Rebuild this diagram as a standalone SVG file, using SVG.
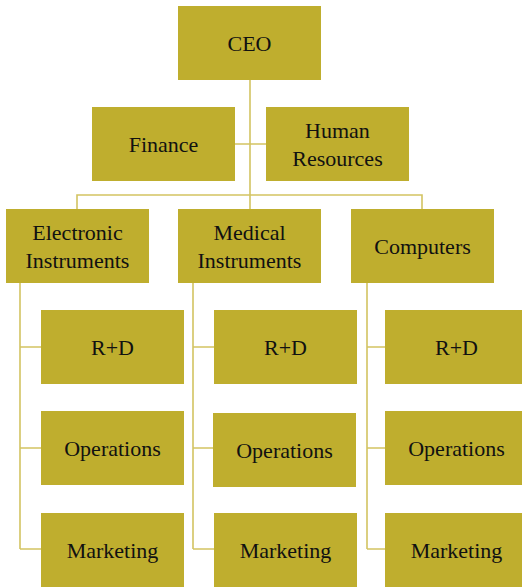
<svg xmlns="http://www.w3.org/2000/svg" width="522" height="587" viewBox="0 0 522 587">
<style>
.box{fill:#BFAE2E}
.t{font-family:"Liberation Serif",serif;font-size:22px;fill:#111;text-anchor:middle}
.c{stroke:#D3C462;stroke-width:1.6;fill:none}
</style>
<rect width="522" height="587" fill="#fff"/>
<g id="connectors" class="c">
<path d="M250 80V209M235 144H266M77 209V195H422V209"/>
<path d="M20 283V549M20 347H41M20 448H41M20 549H41"/>
<path d="M193 283V549M193 347H214M193 448H213M193 549H214"/>
<path d="M367 283V549M367 347H385M367 448H385M367 549H385"/>
</g>
<g id="ceo"><rect class="box" x="178" y="6" width="143" height="74"/><text class="t" x="249.5" y="51">CEO</text></g>
<g id="finance"><rect class="box" x="92" y="107" width="143" height="74"/><text class="t" x="163.5" y="152">Finance</text></g>
<g id="hr"><rect class="box" x="266" y="107" width="143" height="74"/><text class="t" x="337.5" y="138.3">Human</text><text class="t" x="337.5" y="165.7">Resources</text></g>
<g id="electronic"><rect class="box" x="6" y="209" width="143" height="74"/><text class="t" x="77.5" y="240.3">Electronic</text><text class="t" x="77.5" y="267.7">Instruments</text></g>
<g id="medical"><rect class="box" x="178" y="209" width="143" height="74"/><text class="t" x="249.5" y="240.3">Medical</text><text class="t" x="249.5" y="267.7">Instruments</text></g>
<g id="computers"><rect class="box" x="351" y="209" width="143" height="74"/><text class="t" x="422.5" y="254">Computers</text></g>
<g id="el-rd"><rect class="box" x="41" y="310" width="143" height="74"/><text class="t" x="112.5" y="355">R+D</text></g>
<g id="el-ops"><rect class="box" x="41" y="411" width="143" height="74"/><text class="t" x="112.5" y="456">Operations</text></g>
<g id="el-mkt"><rect class="box" x="41" y="513" width="143" height="74"/><text class="t" x="112.5" y="558">Marketing</text></g>
<g id="med-rd"><rect class="box" x="214" y="310" width="143" height="74"/><text class="t" x="285.5" y="355">R+D</text></g>
<g id="med-ops"><rect class="box" x="213" y="413" width="143" height="74"/><text class="t" x="284.5" y="458">Operations</text></g>
<g id="med-mkt"><rect class="box" x="214" y="513" width="143" height="74"/><text class="t" x="285.5" y="558">Marketing</text></g>
<g id="comp-rd"><rect class="box" x="385" y="310" width="143" height="74"/><text class="t" x="456.5" y="355">R+D</text></g>
<g id="comp-ops"><rect class="box" x="385" y="411" width="143" height="74"/><text class="t" x="456.5" y="456">Operations</text></g>
<g id="comp-mkt"><rect class="box" x="385" y="513" width="143" height="74"/><text class="t" x="456.5" y="558">Marketing</text></g>
</svg>
